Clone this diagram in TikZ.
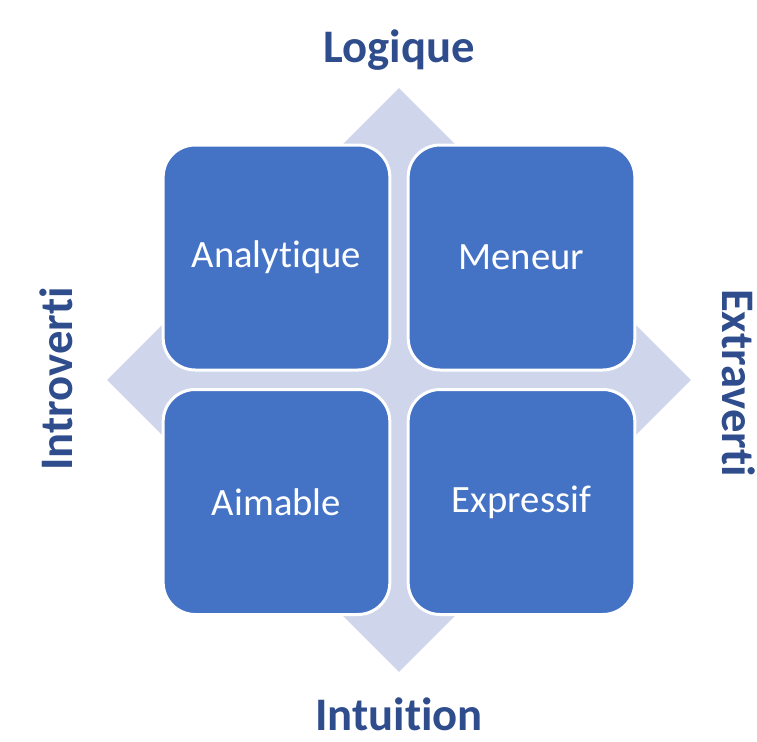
\documentclass[tikz,border=0pt]{standalone}
\usepackage{fontspec}
\setmainfont{Carlito}[Ligatures=NoCommon]
\usetikzlibrary{shapes.geometric}

\definecolor{bleuCarre}{HTML}{4472C4}
\definecolor{fondLosange}{HTML}{CFD5EA}
\definecolor{bleuTitre}{HTML}{2F4D8C}

\begin{document}
\begin{tikzpicture}[x=0.75pt,y=-0.75pt]
    \tikzset{losange/.style = {shape=diamond,fill=fondLosange,minimum width=438pt,minimum height=438pt,inner sep=0pt}}
    \tikzset{carre/.style = {shape=rectangle,rounded corners=24pt,fill=bleuCarre,draw=white,line width=2.25pt,minimum width=170pt,minimum height=168.75pt,text=white,font=\fontsize{29}{34}\selectfont}}
    \tikzset{titre/.style = {text=bleuTitre,font=\fontsize{35}{40}\selectfont\bfseries,inner sep=0pt,anchor=base}}

    \useasboundingbox (0,0) rectangle (757,742);

    \node[losange] (fond) at (399,380) {};

    \node[carre] (Analytique) at (276.5,257.5) {Analytique};
    \node[carre] (Meneur) at (521.5,257.5) {Meneur};
    \node[carre] (Aimable) at (276.5,502) {Aimable};
    \node[carre] (Expressif) at (521.5,502) {Expressif};

    \node[titre] (Logique) at (399,63) {Logique};
    \node[titre] (Intuition) at (399,730) {Intuition};
    \node[titre,rotate=90] (Introverti) at (72,379) {Introverti};
    \node[titre,rotate=-90] (Extraverti) at (722,383) {Extraverti};

\end{tikzpicture}
\end{document}
